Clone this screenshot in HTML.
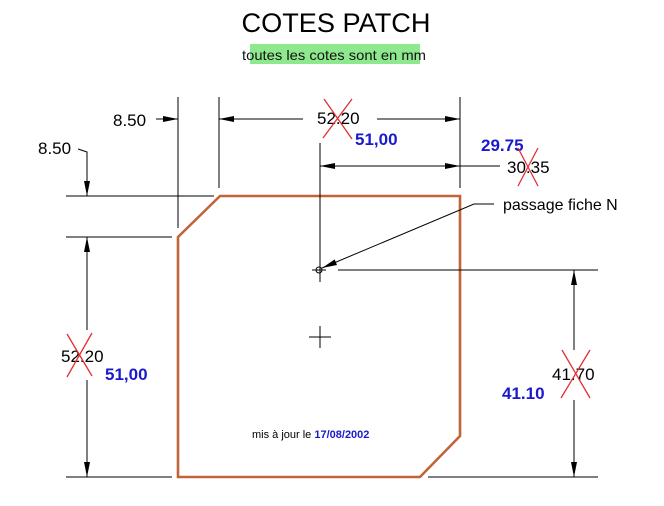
<!DOCTYPE html>
<html><head><meta charset="utf-8"><style>
body{margin:0;background:#fff;width:664px;height:506px;overflow:hidden}
svg{display:block}
text{font-family:"Liberation Sans",sans-serif}
</style></head><body>
<svg width="664" height="506" viewBox="0 0 664 506" xmlns="http://www.w3.org/2000/svg">
<defs>
<marker id="a" viewBox="0 0 10 4" refX="10" refY="2" markerWidth="16" markerHeight="6" markerUnits="userSpaceOnUse" orient="auto"><path d="M0,0L10,2L0,4z" fill="#000"/></marker>
</defs>
<text x="336" y="32" font-size="27" text-anchor="middle" fill="#000" textLength="189" lengthAdjust="spacingAndGlyphs">COTES PATCH</text>
<rect x="250" y="44" width="170" height="20" fill="#8ee88e"/>
<text x="334" y="60" font-size="14" text-anchor="middle" fill="#111" textLength="184" lengthAdjust="spacingAndGlyphs">toutes les cotes sont en mm</text>

<polygon points="220,196 460,196 460,436 420,477 178,477 178,237" fill="none" stroke="#c2643a" stroke-width="2.6"/>

<g stroke="#000" stroke-width="1" fill="none">
<line x1="66" y1="196" x2="214" y2="196"/>
<line x1="66" y1="237" x2="172" y2="237"/>
<line x1="66" y1="477" x2="172" y2="477"/>
<line x1="428" y1="477" x2="598" y2="477"/>
<line x1="178" y1="97" x2="178" y2="228"/>
<line x1="219" y1="97" x2="219" y2="188"/>
<line x1="460" y1="97" x2="460" y2="188"/>
<line x1="320" y1="143" x2="320" y2="282"/>
<line x1="338" y1="270" x2="598" y2="270"/>
<line x1="156" y1="119" x2="178" y2="119" marker-end="url(#a)"/>
<line x1="303" y1="119" x2="219" y2="119" marker-end="url(#a)"/>
<line x1="377" y1="119" x2="460" y2="119" marker-end="url(#a)"/>
<line x1="390" y1="166" x2="320" y2="166" marker-end="url(#a)"/>
<line x1="330" y1="166" x2="460" y2="166" marker-end="url(#a)"/>
<line x1="460" y1="166" x2="500" y2="166"/>
<polyline points="78,149 87,152 87,196" marker-end="url(#a)"/>
<line x1="87" y1="330" x2="87" y2="237" marker-end="url(#a)"/>
<line x1="87" y1="380" x2="87" y2="477" marker-end="url(#a)"/>
<line x1="574" y1="350" x2="574" y2="270" marker-end="url(#a)"/>
<line x1="574" y1="400" x2="574" y2="477" marker-end="url(#a)"/>
<polyline points="494,204 474,204 322,268" marker-end="url(#a)"/>
<circle cx="319" cy="270" r="3"/>
<line x1="312" y1="270" x2="326" y2="270"/>
<line x1="309" y1="337" x2="331" y2="337"/>
<line x1="320" y1="326" x2="320" y2="348"/>
</g>

<g font-size="17" fill="#000">
<text x="113" y="126">8.50</text>
<text x="38" y="154">8.50</text>
<text x="317" y="124">52.20</text>
<text x="507" y="173">30.35</text>
<text x="61" y="362">52.20</text>
<text x="552" y="380">41.70</text>
<text x="503" y="210" font-size="16">passage fiche N</text>
</g>
<g font-size="17" font-weight="bold" fill="#1a1acc">
<text x="355" y="145">51,00</text>
<text x="481" y="151">29.75</text>
<text x="105" y="380">51,00</text>
<text x="502" y="399">41.10</text>
</g>
<text x="252" y="438" font-size="11" fill="#000">mis à jour le <tspan fill="#1a1acc" font-weight="bold">17/08/2002</tspan></text>

<g stroke="#e03030" stroke-width="1.3">
<line x1="323" y1="138" x2="352" y2="99"/><line x1="324" y1="99" x2="352" y2="139"/>
<line x1="518" y1="186" x2="538" y2="148"/><line x1="518" y1="148" x2="538" y2="186"/>
<line x1="67" y1="377" x2="92" y2="333"/><line x1="67" y1="334" x2="92" y2="376"/>
<line x1="561" y1="398" x2="590" y2="350"/><line x1="562" y1="350" x2="590" y2="398"/>
</g>
</svg>
</body></html>
